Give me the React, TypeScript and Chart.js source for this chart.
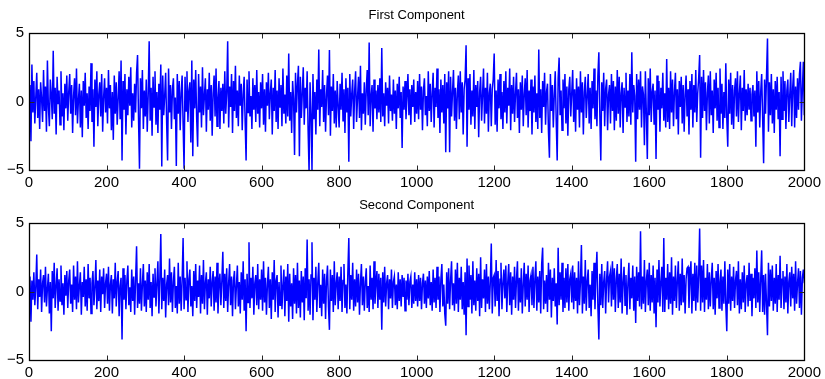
import { useEffect, useRef } from "react";
import { Chart, registerables } from "chart.js";

Chart.register(...registerables);

const FONT = "'Liberation Sans', Arial, Helvetica, sans-serif";

// sample spacing on the x axis (samples 0..2000)
const SAMPLE_STEP = 2.5;

const titles = ["First Component", "Second Component"];
const xTicks = [0, 200, 400, 600, 800, 1000, 1200, 1400, 1600, 1800, 2000];
const yTicks = [-5, 0, 5];
const xRange = [0, 2000];
const yRange = [-5, 5];

const firstComponent = [
  0.4, 1.2, -2.9, 2.7, -0.8, 1.5, -1.6, 0.3, 2.1, -1.2, 0.9, -2.0, 1.4, 0.2, -1.5, 2.3, -0.7, 1.1, -2.2, 3.0, -0.4, -1.8, 1.6, 0.5, -1.3, 3.7, -0.9, 1.0, -2.4, 1.8, -0.2, 0.8, -1.7, 2.2, -1.1, 0.6, -2.1, 1.3, -0.5, 1.9,
  -1.4, 0.7, 2.0, -0.9, 1.2, -2.3, 0.4, 1.7, -1.0, 2.4, -1.6, 0.1, 1.3, -1.9, 0.8, -2.6, 1.5, -0.3, 2.1, -1.2, 0.6, -2.0, 1.1, -0.7, 2.8, -1.5, 0.9, -3.3, 1.6, -0.4, 2.2, -1.8, 0.5, 1.4, -1.1, 2.0, -2.2, 0.3, 1.7, -0.8,
  1.0, -1.6, 2.3, -0.5, 1.2, -2.1, 0.7, -2.8, 1.9, -0.9, 1.4, -1.7, 0.2, 2.2, -1.3, 3.0, -4.3, 1.5, -0.6, 2.0, -2.4, 0.9, -1.0, 1.8, -0.3, 2.5, -1.9, 0.6, -1.4, 1.3, -0.8, 2.1, 3.4, -1.2, -4.9, 1.7, -0.5, 2.3, -2.0, 0.8,
  -1.1, 1.6, -2.2, 0.5, 4.4, -1.4, 1.0, -2.5, 1.8, -0.4, 2.2, -1.7, 0.7, -2.3, 1.3, -0.6, 2.7, -4.75, 1.9, -1.0, 0.4, 2.1, -1.5, -4.3, 2.4, -0.8, 1.2, -2.0, 0.9, 1.7, -1.3, 0.3, -4.7, 2.0, -0.9, 1.5, -2.1, 0.6, 1.9, -1.6,
  -4.9, 1.8, -0.7, 2.2, -1.5, 0.8, 1.4, -3.0, 3.0, -4.0, 1.6, -0.5, 2.3, -1.2, -3.3, 2.0, -0.8, 1.1, -1.9, 2.5, -1.0, 0.4, 1.7, -2.2, 0.9, -0.6, 2.1, -1.4, 1.2, -2.5, 0.6, 1.9, -1.1, 2.4, -1.8, 0.2, 1.5, -2.0, 1.0, -0.7,
  1.3, -1.6, 2.2, -0.9, 0.6, 4.4, -1.9, 1.1, -0.4, 2.0, -2.3, 1.5, -0.7, 2.6, -1.2, 0.8, -1.8, 1.9, -0.3, 1.3, -2.1, 0.5, 1.8, -1.4, -4.3, 1.6, -0.8, 2.2, -1.1, 0.4, -2.0, 1.7, -0.6, 1.2, -1.5, 2.3, -0.9, 0.7, -1.9, 1.4,
  -0.5, 2.0, -1.7, 0.9, -2.2, 1.4, -0.3, 2.1, -1.3, 0.6, 1.6, -2.4, 1.0, -0.7, 2.3, -1.5, 0.8, -2.0, 1.7, -0.4, 1.2, -1.8, 2.4, -0.9, 0.5, -1.6, 1.9, -1.1, 3.5, -1.4, 0.7, -2.3, 1.5, 0.2, -3.9, 2.1, -0.8, 1.3, 2.6, -4.0,
  1.8, -1.2, 0.6, 2.5, -1.7, 1.0, -0.5, 2.2, -2.1, -5.2, 1.4, -0.9, -5.0, 2.0, -1.3, 0.7, -2.4, 1.6, -0.6, 3.8, -1.8, 0.9, -0.4, 2.3, -1.5, 1.2, -2.2, 0.5, 1.9, -1.0, 3.75, -2.5, 1.1, -0.7, 2.0, -1.6, 0.8, -1.9, 1.5, -0.3,
  -1.9, 1.3, -0.6, 2.1, -1.4, 0.9, -2.3, 1.7, -0.8, 1.0, -4.4, 2.0, -1.1, 0.5, 1.6, -2.0, 0.7, 2.2, -1.5, 0.3, 1.8, -1.2, 2.6, -2.1, 0.6, -0.9, 1.4, -1.7, 0.9, 2.3, -1.0, 4.3, -1.8, 0.4, 1.2, -2.2, 1.6, -0.5, 0.8, -1.3,
  1.2, -0.8, 1.7, -1.5, 3.9, -1.1, 0.6, -1.8, 1.4, -0.3, 1.0, -1.6, 1.9, -0.7, 0.5, -1.4, 1.6, -0.9, 0.8, -2.0, 1.3, -0.5, 1.8, -1.2, 0.7, -3.4, 1.1, -0.6, 1.5, -1.3, 0.4, 2.0, -1.0, 0.9, -1.7, 1.2, -0.4, 1.6, -1.5, 0.7,
  -0.9, 1.5, -1.3, 2.0, -0.6, 1.1, -2.1, 0.8, 1.7, -1.0, 0.4, -1.8, 2.2, -0.7, 1.3, -1.5, 0.6, 2.1, -1.9, 1.0, -0.4, 2.4, -1.2, 0.9, -2.3, 1.6, -0.8, 1.2, -1.6, 2.0, -3.7, 1.4, -0.5, 2.2, -3.7, 1.8, -1.1, 0.7, 2.3, -1.4,
  1.0, -2.0, 0.6, 1.9, -1.3, 2.2, -0.8, 1.4, -2.4, 0.9, 1.6, 4.1, -3.3, 1.7, -0.6, 2.0, -1.7, 0.8, -1.1, 2.3, -2.0, 1.2, -0.4, 1.5, -2.6, 0.7, 1.8, -1.4, 0.5, 2.4, -1.6, 1.0, -0.9, 2.1, -2.2, 0.6, 1.3, -1.8, 0.9, 1.6,
  3.5, -1.7, 0.8, -2.2, 1.6, -0.5, 2.0, -1.3, 0.7, -2.0, 1.5, -0.8, 2.2, -1.6, 1.0, -0.3, 2.4, -2.1, 1.2, -0.9, 1.8, -1.5, 0.6, 2.1, -1.2, 0.9, -2.3, 1.4, -0.6, 1.9, -1.8, 0.5, 1.7, -1.0, 2.3, -1.9, 0.8, -0.7, 1.6, -2.4,
  1.1, -0.8, 1.9, -1.5, 0.6, -2.0, 3.8, -1.2, 0.9, -2.3, 1.5, -0.4, 2.1, -1.7, 0.7, 1.3, -2.2, -4.1, 2.0, -0.7, 1.2, -1.9, 0.5, 2.2, -1.4, -4.3, 1.7, 3.2, -1.0, 0.8, -2.1, 1.6, -0.5, 2.0, -1.6, 1.1, -2.5, 0.9, 1.8, -1.1,
  0.6, 2.3, -1.5, 0.9, -2.2, 1.7, -0.6, 1.1, -1.9, 2.2, -0.8, 1.4, -2.4, 0.7, 1.8, -1.2, 0.4, 2.0, -1.6, 1.0, -2.0, 1.5, -0.5, 2.4, -1.3, 0.8, -1.8, 1.9, 3.6, -1.0, -4.3, 1.4, -0.7, 2.1, -1.8, 0.9, 1.6, -2.1, 0.5, 1.2,
  -1.6, 2.0, -0.7, 1.5, -2.1, 1.1, -1.4, 2.3, -0.9, 1.8, -1.9, 0.6, 1.4, -2.3, 1.0, -0.4, 2.1, -1.5, 0.8, -1.1, 2.0, -1.7, 3.6, -0.8, 1.2, 0.4, -4.4, 2.0, -1.3, 1.6, -0.6, 2.2, -1.9, 1.1, 0.5, -3.2, 2.2, -0.9, -4.2, 1.7,
  -1.0, 2.4, -1.5, 0.7, 1.3, -1.7, 0.8, -4.2, 1.9, -0.6, 1.5, -2.2, 1.0, -0.5, 2.1, -1.4, 0.6, -1.9, 3.1, -1.5, 1.0, -2.0, 2.2, -0.8, 1.6, -1.8, 0.7, 2.1, -1.3, 0.9, -2.4, 1.5, -0.4, 1.8, -1.6, 1.2, -2.2, 0.5, 1.9, -1.1,
  0.9, -2.4, 1.5, -0.6, 2.0, -1.9, 1.2, -0.8, 2.3, -1.5, 0.6, 1.7, 3.4, -4.1, 1.8, -1.2, 2.3, -0.7, 1.4, -2.1, 0.6, 1.9, -1.6, 2.2, -1.0, 0.8, -2.3, 1.6, -0.5, 2.1, -1.4, 1.0, -1.9, 2.4, -0.9, 1.3, -2.0, 0.7, -1.2, 2.8,
  -1.2, -3.3, 1.6, -0.9, 2.1, -1.7, 1.2, -2.0, 0.8, 1.7, -1.1, 2.2, -1.5, 0.6, 1.9, -2.1, 1.0, -0.7, 2.3, -1.4, 0.9, -1.0, 1.3, -0.6, 1.0, -1.4, 0.5, 1.2, -1.1, 0.8, -3.3, 2.2, -0.8, 1.5, -1.9, 0.7, 2.0, -1.2, -4.5, 1.6,
  -0.9, 1.9, 4.6, -2.2, 1.4, -1.0, 2.0, -1.6, 0.9, -2.3, 1.5, -0.6, 1.8, -1.3, 0.7, -4.0, 1.8, -1.3, 2.2, -0.7, 1.5, -2.0, 0.8, 1.6, -1.5, 0.5, 2.1, -1.8, 1.0, 2.3, -1.9, 1.1, -1.2, 1.7, -0.6, 2.0, 2.9, -1.4, 0.9, 2.9,
  -1.0,
];

const secondComponent = [
  0.5, 1.1, -2.2, 0.8, -0.6, 1.4, -1.0, 0.3, 2.7, -1.3, 0.9, -0.4, 1.6, -1.5, 0.6, 1.2, -0.8, 1.8, -1.1, 0.2, 1.3, -1.6, 0.7, -2.9, 1.5, -0.5, 2.1, -1.2, 0.4, 1.7, -1.4, 0.9, -0.7, 1.9, -1.0, 0.6, -1.7, 1.2, -0.3, 1.5,
  -1.2, 0.8, 1.6, -0.9, 0.5, -1.5, 1.9, -0.6, 1.1, -1.3, 2.2, -0.8, 0.4, 1.4, -1.7, 0.7, -0.4, 1.8, -1.1, 0.9, -1.4, 2.0, -0.5, 1.0, -1.6, 0.6, 1.5, -1.0, 0.3, 2.3, -1.3, 0.8, -0.7, 1.6, -1.5, 1.1, -0.2, 1.7, -1.2, 0.6,
  1.3, -0.9, 1.8, -1.4, 0.5, 1.2, -1.6, 0.9, -0.5, 2.1, -1.1, 0.7, 1.5, -1.8, 0.4, 1.0, -3.5, 1.7, -0.6, 1.2, -1.3, 0.8, 1.9, -1.0, 0.3, -1.5, 1.6, -0.7, 1.1, -1.7, 0.9, 3.3, -1.2, 0.6, -0.9, 1.7, -1.4, 0.5, 2.0, -1.1,
  0.8, -1.5, 1.4, -0.6, 2.0, -1.2, 0.7, -1.8, 1.3, -0.4, 1.7, -1.1, 0.6, 2.2, -1.6, 0.9, 4.2, -1.3, 1.0, -0.7, 1.6, -1.9, 0.5, 1.2, -1.0, 2.4, -0.8, 1.4, -1.5, 0.7, 1.8, -1.2, 0.4, -1.6, 2.1, -0.9, 1.1, -1.4, 0.8, 3.9,
  -1.3, 1.0, -0.6, 2.2, -1.5, 0.9, 1.6, -1.1, 0.4, -1.8, 1.5, -0.7, 2.0, -1.2, 0.8, -0.4, 1.9, -1.6, 1.2, -0.9, 2.3, -1.3, 0.6, 1.4, -1.7, 0.9, -0.5, 1.8, -1.1, 0.7, 1.5, -1.4, 1.1, -0.8, 2.1, -1.6, 0.5, 1.3, -1.0, 0.8,
  2.9, -1.2, 1.3, -0.7, 1.7, -1.5, 0.6, 2.0, -1.0, 1.1, -1.8, 0.8, 1.5, -1.3, 0.4, 1.9, -1.1, 0.7, -1.6, 1.4, -0.6, 2.2, -1.4, 0.9, -2.9, 1.3, -0.8, 3.6, -1.2, 1.0, -0.5, 1.8, -1.7, 0.6, 1.2, -1.0, 2.0, -1.3, 0.9, -0.6,
  1.6, -1.4, 2.2, -0.8, 1.0, -1.7, 0.5, 1.8, -1.2, 0.9, -2.0, 1.4, -0.6, 2.3, -1.5, 0.8, 1.2, -1.9, 0.7, -1.0, 1.9, -1.3, 0.4, 1.6, -1.8, 1.1, -0.7, 2.0, -2.2, 1.3, -1.1, 0.6, -2.0, 1.7, -0.9, 1.2, -1.6, 2.1, -1.2, 0.8,
  -1.9, 1.5, -0.8, 1.1, -2.1, 1.7, -0.5, 3.8, -1.4, 0.9, -1.7, 1.2, 3.6, -2.1, 1.0, -0.6, 1.8, -1.5, 0.7, 2.1, -1.2, 0.5, -1.8, 1.6, -0.9, 1.3, -2.0, 0.8, 1.9, -1.1, -2.8, 1.6, -0.7, 1.2, -1.5, 2.2, -1.0, 0.6, 1.4, -1.3,
  1.1, -0.7, 1.8, -1.5, 0.8, 2.0, -1.2, 0.5, -1.6, 1.4, 3.9, -1.3, 1.2, -0.6, 2.1, -1.4, 0.9, -1.1, 1.6, -0.8, 1.3, -1.7, 0.6, 2.0, -1.0, 1.1, -1.4, 0.7, 1.7, -1.2, 0.4, -1.5, 1.9, -0.6, 1.0, -1.3, 2.2, -0.9, 0.6, 1.5,
  -1.2, 1.3, -0.6, 1.0, -2.8, 1.4, -0.8, 1.8, -1.1, 0.6, 1.2, -1.3, 0.9, -0.5, 1.6, -1.2, 0.7, 1.1, -1.0, 0.5, -1.3, 1.4, -0.7, 0.9, -1.1, 1.2, -0.4, 1.0, -1.4, 0.8, -0.6, 1.3, -1.0, 0.7, 1.1, -1.2, 0.5, -0.9, 1.4, -0.7,
  0.9, -1.1, 1.2, -0.7, 1.0, -1.3, 0.6, 1.3, -0.9, 0.8, -1.2, 1.1, -0.5, 1.5, -1.0, 0.7, -1.4, 1.6, -0.8, 1.0, -1.2, 1.8, -0.6, 1.1, -1.5, 0.9, 2.0, -1.1, 0.5, -1.6, -2.5, 1.4, -0.9, 1.7, -1.3, 0.8, 2.2, -1.0, 0.6, -1.4,
  1.6, -0.9, 2.1, -1.5, 1.0, -0.6, 1.8, -1.3, 0.7, -1.7, 1.4, -3.2, 2.4, -1.1, 1.9, -0.6, 1.2, -1.6, 2.2, -1.0, 0.8, -1.4, 1.7, -0.7, 1.3, -1.8, 2.5, -1.2, 0.9, -0.5, 1.6, -1.5, 2.0, -0.9, 1.1, -1.3, 0.7, 3.5, -1.6, 1.0,
  1.2, -1.1, 2.3, -0.7, 1.5, -1.8, 0.9, 2.1, -1.3, 0.6, 1.6, -0.5, 1.9, -1.5, 0.7, 2.0, -1.0, 1.4, -1.7, 1.1, -0.6, 1.8, -1.2, 0.9, 2.2, -1.4, 1.0, -0.8, 1.7, -1.6, 0.5, 2.1, -1.1, 1.3, -0.6, 1.9, -1.5, 0.8, 1.2, -1.0,
  1.8, -1.2, 0.9, 2.2, -1.4, 1.1, -0.8, 1.5, -1.6, 2.0, 3.2, -1.3, 0.8, -0.9, 1.2, -1.5, 2.1, -0.6, 1.6, -1.9, 1.0, -0.7, 1.7, -1.1, 0.6, -2.4, 3.2, -1.0, 1.4, -0.6, 2.1, -1.5, 1.0, -1.2, 1.7, -0.8, 2.0, -1.4, 0.9, 1.3,
  -0.8, 1.9, -1.3, 1.4, -0.7, 1.0, -1.6, 2.2, -1.0, 0.7, 3.4, -1.6, 1.1, -0.9, 2.3, -1.4, 0.8, 1.6, -1.2, 0.5, -1.8, 1.5, -0.6, 2.1, -1.3, 1.2, 2.9, -1.1, -3.5, 1.3, -1.0, 2.0, -1.2, 0.7, 1.5, -1.6, 0.9, 2.2, -0.8, 1.1,
  1.5, -1.1, 2.2, -0.6, 1.7, -1.5, 0.9, 2.0, -1.2, 1.3, -0.8, 2.4, -1.6, 0.7, 1.8, -1.0, 1.2, -1.7, 0.6, 2.1, -1.3, 1.0, -0.5, 1.9, -1.4, 1.1, -2.3, 1.8, -0.7, 1.4, -1.1, 4.4, -1.3, 1.1, -0.9, 2.3, -1.5, 0.8, 1.6, -1.0,
  2.1, -1.4, 1.2, -0.8, 1.9, -1.6, 1.0, -2.6, 1.6, -0.8, 2.3, -1.1, 0.7, 1.8, -1.5, 3.9, -1.5, 1.0, -0.6, 2.0, -1.3, 1.4, -0.9, 2.5, -1.7, 1.1, -0.7, 1.9, -1.2, 0.8, 2.2, -1.4, 1.3, -1.0, 2.4, -0.8, 1.2, -1.6, 0.9, 1.7,
  1.8, -1.2, 0.8, 2.2, -1.6, 1.3, -0.7, 2.1, -1.4, 1.9, -0.8, 1.2, 4.6, -1.4, 1.9, -0.8, 2.3, -1.5, 1.0, -0.6, 2.0, -1.3, 1.4, -1.1, 0.9, 2.1, -1.3, 1.0, -1.7, 1.5, -0.5, 2.0, -1.2, 0.7, 1.6, -1.4, 1.1, -0.9, 2.2, -1.0,
  -2.9, 1.6, -0.9, 2.0, -1.4, 1.1, -0.7, 1.8, -1.2, 0.8, 1.5, -1.0, 2.2, -1.6, 0.9, -1.3, 1.4, -0.8, 1.9, -1.5, 0.6, 1.2, -1.1, 2.1, -0.7, 1.3, -1.8, 1.0, -0.5, 1.7, -1.2, 3.0, -0.8, 1.4, -1.5, 0.9, 3.0, -1.5, 1.2, -1.7,
  1.3, -0.9, -3.2, 2.1, -1.1, 1.6, -0.7, 1.9, -1.4, 1.0, -0.9, 2.0, -1.5, 1.2, -0.6, 2.6, -1.2, 0.9, 1.5, -1.3, 1.1, -0.8, 2.0, -1.6, 0.7, 1.4, -1.1, 1.8, -0.5, 1.3, -1.4, 2.2, -0.9, 0.6, 1.7, -1.2, 1.5, -1.7, 1.0, 1.6,
  0.6,
];

const framePlugin = {
  id: "matlabFrame",
  afterLayout(chart: any) {
    // centre the title over the plot box, as in the reference
    const tb = chart.titleBlock;
    if (tb) {
      tb.left = chart.chartArea.left;
      tb.right = chart.chartArea.right;
      tb.width = tb.right - tb.left;
    }
  },
  afterDatasetsDraw(chart: any) {
    const { ctx, chartArea: a, scales } = chart;
    const L = Math.round(a.left) + 0.5;
    const R = Math.round(a.right) + 0.5;
    const T = Math.round(a.top) + 0.5;
    const B = Math.round(a.bottom) + 0.5;
    ctx.save();
    ctx.lineWidth = 1;
    ctx.strokeStyle = "#262626";
    const len = 5;
    ctx.beginPath();
    for (const t of scales.x.ticks) {
      const px = Math.round(scales.x.getPixelForValue(t.value)) + 0.5;
      ctx.moveTo(px, B);
      ctx.lineTo(px, B - len);
      ctx.moveTo(px, T);
      ctx.lineTo(px, T + len);
    }
    for (const t of scales.y.ticks) {
      const py = Math.round(scales.y.getPixelForValue(t.value)) + 0.5;
      ctx.moveTo(L, py);
      ctx.lineTo(L + len, py);
      ctx.moveTo(R, py);
      ctx.lineTo(R - len, py);
    }
    ctx.stroke();
    ctx.strokeStyle = "#000";
    ctx.lineWidth = 1.3;
    ctx.strokeRect(L, T, R - L, B - T);
    ctx.restore();
  },
};

function Panel({ title, values, height }: { title: string; values: number[]; height: number }) {
  const ref = useRef<HTMLCanvasElement>(null);
  useEffect(() => {
    if (!ref.current) return;
    const points = values.map((v, i) => ({ x: i * SAMPLE_STEP, y: v }));
    const chart = new Chart(ref.current, {
      type: "line",
      data: {
        datasets: [
          {
            data: points,
            borderColor: "#0000ff",
            borderWidth: 1.5,
            pointRadius: 0,
            tension: 0,
            fill: false,
          },
        ],
      },
      options: {
        animation: false,
        responsive: false,
        events: [],
        layout: { padding: { left: 0, right: 19, top: 0, bottom: 0 } },
        plugins: {
          legend: { display: false },
          tooltip: { enabled: false },
          title: {
            display: true,
            text: title,
            color: "#000",
            font: { family: FONT, size: 13, weight: "normal" },
            padding: { top: 8, bottom: 9.4 },
          },
        },
        scales: {
          x: {
            type: "linear",
            min: xRange[0],
            max: xRange[1],
            afterBuildTicks: (s: any) => {
              s.ticks = xTicks.map((v) => ({ value: v }));
            },
            afterFit: (s: any) => {
              s.height = height - 170;
            },
            grid: { display: false, drawTicks: false },
            border: { display: false },
            ticks: {
              autoSkip: false,
              maxRotation: 0,
              padding: 4,
              color: "#000",
              font: { family: FONT, size: 15 },
              callback: (v: any) => String(v),
            },
          },
          y: {
            type: "linear",
            min: yRange[0],
            max: yRange[1],
            afterBuildTicks: (s: any) => {
              s.ticks = yTicks.map((v) => ({ value: v }));
            },
            afterFit: (s: any) => {
              s.width = 29;
            },
            grid: { display: false, drawTicks: false },
            border: { display: false },
            ticks: {
              padding: 5,
              color: "#000",
              font: { family: FONT, size: 15 },
              callback: (v: any) => (Number(v) < 0 ? "\u2212" + Math.abs(Number(v)) : String(v)),
            },
          },
        },
      },
      plugins: [framePlugin],
    });
    return () => chart.destroy();
  }, [title, values, height]);
  return <canvas ref={ref} width={825} height={height} style={{ display: "block", width: 825, height }} />;
}

export default function App() {
  return (
    <div style={{ position: "fixed", left: 0, top: 0, width: 825, height: 379, background: "#fff" }}>
      <Panel title={titles[0]} values={firstComponent} height={190} />
      <Panel title={titles[1]} values={secondComponent} height={189} />
    </div>
  );
}
